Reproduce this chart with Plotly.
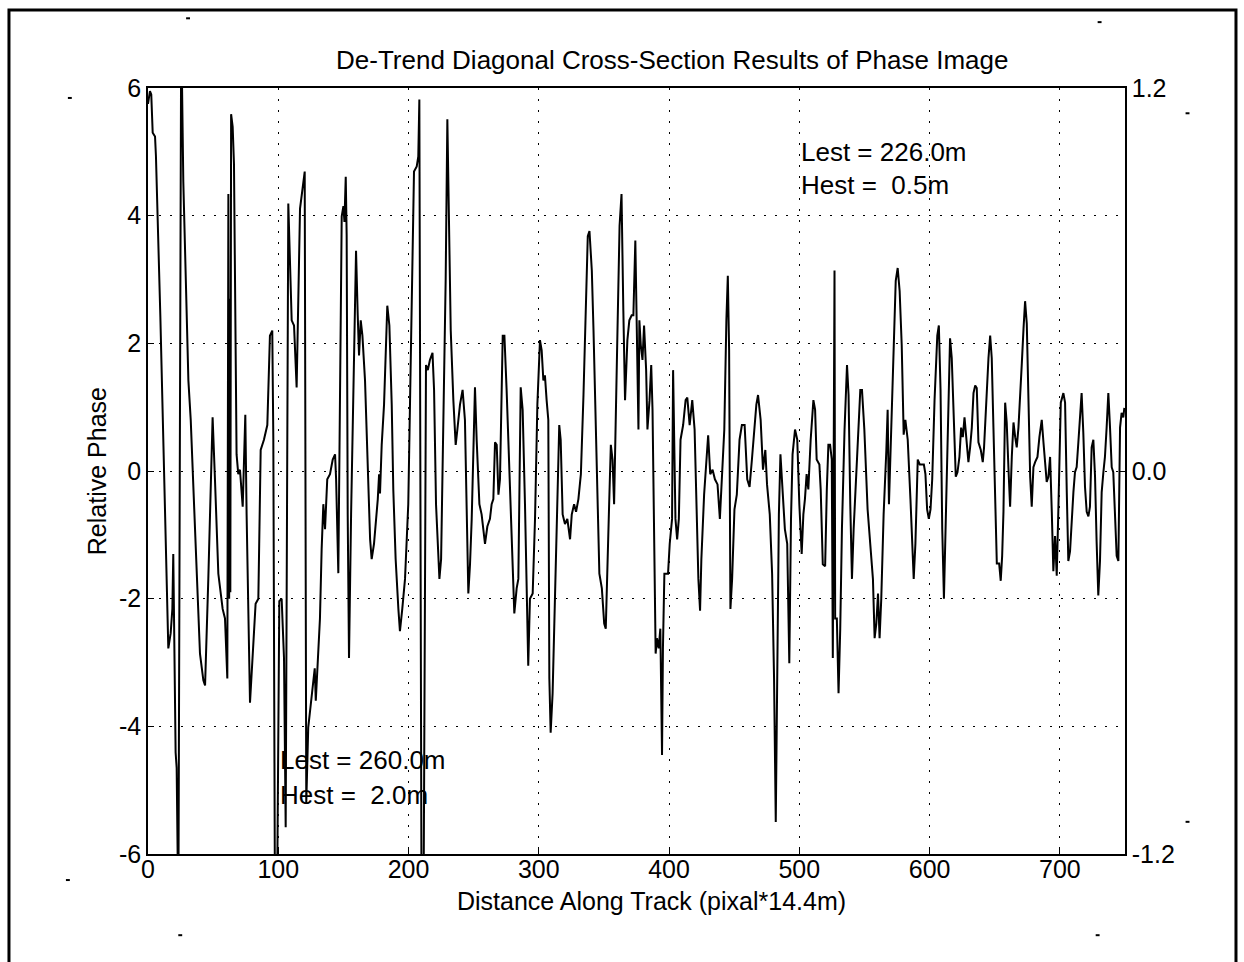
import plotly.graph_objects as go

# ---- data ----
dist = [0.0, 1.5, 2.5, 3.6, 5.4, 6.1, 9.5, 12.5, 15.6, 17.4, 18.7, 19.4, 20.2, 21.2, 22.0, 23.3, 25.5, 26.3, 27.1,
        31.0, 32.8, 36.1, 39.9, 42.5, 43.8, 46.3, 49.6, 51.4, 54.0, 57.3, 59.1, 60.9, 61.7, 62.3, 62.8, 63.2, 63.8,
        65.0, 66.0, 68.0, 69.3, 70.6, 72.7, 74.7, 75.7, 78.3, 80.9, 82.6, 84.7, 86.5, 89.0, 91.6, 93.6, 95.4, 96.2,
        97.5, 99.0, 100.8, 102.6, 104.4, 105.7, 107.7, 110.3, 112.1, 114.1, 116.7, 120.3, 121.5, 123.0, 126.9, 128.0,
        128.8, 130.8, 132.0, 133.3, 134.6, 135.9, 137.6, 139.7, 141.8, 143.6, 144.4, 146.1, 146.8, 148.7, 150.0,
        150.8, 151.8, 152.5, 153.3, 154.3, 155.9, 157.6, 159.7, 161.0, 162.0, 163.3, 164.6, 166.6, 168.7, 170.5,
        171.7, 173.5, 176.4, 177.4, 178.1, 179.4, 181.2, 183.7, 185.3, 187.1, 188.3, 190.1, 192.2, 193.4, 195.2,
        197.3, 199.8, 202.4, 204.2, 206.3, 207.5, 208.3, 210.0, 211.5, 213.4, 214.8, 216.4, 218.4, 219.6, 221.1,
        223.7, 225.0, 226.7, 228.5, 229.8, 231.0, 232.4, 234.4, 236.2, 237.5, 239.5, 241.5, 243.3, 245.9, 247.2,
        248.5, 251.0, 252.3, 254.4, 256.1, 258.7, 260.5, 262.5, 263.8, 265.1, 266.4, 267.7, 269.0, 270.2, 272.3,
        273.6, 275.3, 277.9, 280.0, 281.2, 283.0, 284.3, 286.1, 287.6, 289.4, 290.6, 291.9, 293.2, 295.3, 297.1,
        298.9, 300.9, 302.2, 303.5, 304.7, 306.0, 307.3, 308.1, 309.1, 310.6, 312.4, 313.7, 315.7, 316.8, 318.3,
        320.1, 321.9, 324.0, 325.3, 327.1, 328.6, 330.4, 332.3, 334.3, 336.4, 337.6, 338.9, 340.7, 342.0, 344.5,
        346.5, 348.4, 350.2, 351.4, 352.7, 354.0, 355.3, 356.6, 357.8, 359.1, 360.4, 362.0, 363.5, 364.9, 366.2,
        368.0, 369.5, 371.3, 372.6, 374.1, 375.2, 376.5, 377.2, 378.3, 379.6, 380.8, 382.4, 383.4, 385.0, 386.3,
        387.3, 388.9, 389.7, 390.7, 392.0, 393.3, 394.6, 395.3, 396.4, 397.7, 399.2, 400.5, 402.3, 403.1, 404.1,
        404.9, 406.2, 407.5, 408.8, 410.8, 412.7, 414.0, 415.8, 416.5, 417.8, 419.6, 421.2, 422.5, 423.8, 424.8,
        426.9, 429.0, 430.0, 431.6, 433.4, 435.2, 437.2, 439.0, 440.4, 442.4, 444.0, 445.1, 446.1, 447.1, 448.4,
        450.2, 452.0, 454.1, 455.9, 458.0, 460.0, 461.8, 463.6, 465.2, 467.0, 468.3, 470.3, 472.1, 473.9, 475.2,
        477.3, 479.1, 480.6, 481.9, 483.2, 484.3, 485.5, 486.8, 488.9, 490.7, 492.3, 493.6, 494.8, 496.7, 498.4,
        500.0, 501.8, 503.1, 504.3, 505.6, 506.9, 508.7, 510.8, 512.1, 513.3, 515.4, 516.4, 518.0, 519.8, 521.1,
        522.3, 523.6, 524.9, 525.7, 527.0, 527.5, 528.8, 530.1, 531.4, 532.7, 534.7, 536.6, 537.8, 539.1, 540.4,
        541.7, 543.7, 545.5, 546.8, 548.1, 549.9, 552.4, 554.5, 556.5, 557.8, 559.1, 560.4, 561.6, 562.9, 564.7,
        566.8, 567.8, 568.8, 570.6, 572.4, 574.0, 575.5, 577.0, 578.6, 580.1, 581.4, 583.2, 585.3, 586.8, 587.8,
        589.1, 590.9, 592.5, 594.3, 595.6, 596.8, 598.1, 599.4, 600.7, 602.0, 603.8, 605.9, 607.1, 608.4, 609.7,
        611.0, 612.6, 614.4, 615.7, 617.0, 618.3, 620.1, 621.4, 622.9, 624.2, 625.5, 626.8, 628.1, 629.8, 631.1,
        632.4, 633.7, 635.0, 636.2, 637.5, 639.3, 640.8, 641.8, 643.4, 645.2, 646.5, 647.7, 649.0, 650.3, 651.6,
        653.4, 654.6, 655.7, 656.7, 658.0, 659.2, 660.5, 661.8, 663.1, 664.4, 665.7, 666.9, 668.2, 669.5, 670.8,
        672.1, 673.3, 674.6, 675.9, 677.2, 678.4, 679.7, 681.0, 682.8, 684.3, 686.1, 687.4, 688.7, 689.9, 691.2,
        692.5, 693.8, 695.0, 696.3, 697.6, 698.9, 700.7, 702.7, 704.0, 705.3, 706.5, 707.8, 709.1, 710.4, 711.6,
        712.9, 714.2, 715.5, 716.7, 718.0, 719.3, 720.6, 721.9, 723.1, 724.4, 725.7, 727.0, 728.2, 729.5, 730.8,
        732.1, 733.4, 734.6, 735.9, 737.2, 738.5, 739.8, 741.0, 742.3, 743.6, 744.9, 746.2, 747.4, 748.7, 749.5]

phase = [5.75, 5.95, 5.9, 5.3, 5.24, 4.93, 2.4, 0.0, -2.78, -2.54, -2.16, -1.30, -2.39, -4.41, -4.65, -7.0, 7.0, 6.0, 4.54,
         1.42, 0.80, -0.91, -2.86, -3.28, -3.36, -1.69, 0.84, -0.13, -1.61, -2.16, -2.31, -3.25, 4.34, -2.0, 2.7, -1.9, 5.59,
         5.39, 4.81, 0.26, -0.05, 0.02, -0.56, 0.88, -0.68, -3.63, -2.62, -2.08, -2.0, 0.33, 0.49, 0.72, 2.12, 2.2, 0.5,
         -7.0, -7.0, -2.04, -2.0, -2.93, -5.58, 4.19, 2.36, 2.28, 1.31, 4.11, 4.69, -5.2, -4.02, -3.25, -3.09,
         -3.6, -2.62, -2.31, -1.22, -0.52, -0.91, -0.13, -0.05, 0.18, 0.26, -0.13, -1.6, -0.3, 3.99, 4.15,
         3.9, 4.61, 3.7, -0.68, -2.93, -0.68, 1.42, 3.45, 2.44, 1.81, 2.36, 2.12, 1.42, -0.13, -1.07,
         -1.38, -1.14, -0.44, -0.05, -0.35, 0.41, 1.04, 2.59, 2.28, 1.04, -0.29, -1.38, -2.16, -2.51, -2.16,
         -1.69, -0.52, 2.98, 4.69, 4.77, 4.93, 5.82, -7.0, -7.0, 1.66, 1.58, 1.74, 1.85, 1.27, -0.52,
         -1.69, -1.38, 0.65, 2.98, 5.51, 4.15, 2.2, 1.11, 0.41, 0.65, 1.04, 1.27, 0.8, -1.92, -1.46,
         -0.75, 1.31, 0.49, -0.52, -0.68, -1.14, -0.87, -0.75, -0.52, -0.44, 0.45, 0.41, -0.37, -0.13, 2.12,
         2.12, 1.27, -0.37, -1.53, -2.23, -1.84, -1.69, 1.31, 0.96, -0.52, -2.0, -3.05, -2.0, -1.92, -0.75,
         1.04, 2.05, 1.89, 1.42, 1.5, 1.11, 0.8, -3.25, -4.1, -3.48, -2.08, -0.68, 0.72, 0.49, -0.68,
         -0.83, -0.75, -1.07, -0.68, -0.52, -0.64, -0.44, -0.05, 1.19, 2.67, 3.68, 3.76, 3.14, 2.2, -0.13,
         -1.61, -1.84, -2.39, -2.47, -1.3, -0.52, 0.41, 0.18, -0.52, 0.65, 2.2, 3.84, 4.34, 2.51, 1.11,
         2.05, 2.36, 2.44, 2.44, 3.61, 2.36, 0.65, 2.36, 1.97, 1.74, 2.28, 1.58, 0.65, 1.11, 1.66,
         0.96, -2.16, -2.86, -2.62, -2.78, -2.47, -4.45, -2.78, -1.61, -1.61, -1.61, -1.14, -0.75, 1.58, 0.49,
         -0.75, -1.07, -0.75, 0.49, 0.72, 1.11, 1.15, 0.72, 0.87, 1.11, 0.65, -0.68, -1.69, -2.19, -1.38,
         -0.37, 0.26, 0.56, -0.05, 0.02, -0.13, -0.21, -0.75, -0.13, 0.65, 2.36, 3.06, 1.89, -2.16, -1.69,
         -0.6, -0.37, 0.49, 0.72, 0.72, -0.13, -0.25, 0.18, 0.65, 1.04, 1.19, 0.8, 0.02, 0.33, -0.21,
         -0.68, -1.61, -3.25, -5.5, -2.47, -0.68, 0.26, -0.13, -0.91, -1.14, -3.01, -0.75, 0.26, 0.65, 0.49,
         -0.52, -1.3, -0.68, -0.44, -0.05, -0.29, 0.49, 1.11, 0.96, 0.18, 0.1, -0.29, -1.46, -1.49, -0.29,
         0.41, 0.41, 0.18, -2.93, 3.14, -2.31, -2.31, -3.48, -2.47, -0.91, 0.65, 1.66, 1.19, -0.52, -1.69,
         -0.91, 0.02, 0.8, 1.27, 1.27, 0.65, -0.6, -1.22, -1.69, -2.62, -2.39, -1.92, -2.62, -2.0, -0.68,
         0.33, 0.96, -0.52, 0.65, 1.97, 2.98, 3.18, 2.82, 1.97, 0.57, 0.8, 0.49, -0.44, -1.14, -1.69,
         -1.14, 0.18, 0.1, 0.1, 0.1, -0.05, -0.6, -0.75, -0.6, -0.13, 1.11, 2.12, 2.28, 1.27, -0.91,
         -2.0, -0.48, 1.22, 2.08, 1.77, 0.84, -0.09, -0.02, 0.22, 0.68, 0.53, 0.84, 0.53, 0.14, 0.37,
         0.68, 1.22, 1.34, 1.3, 0.45, 0.33, 0.14, 0.37, 1.15, 1.77, 2.12, 1.77, 0.68, -0.48, -1.45,
         -1.45, -1.72, -1.33, -0.64, 1.07, 0.76, 0.06, -0.56, 0.22, 0.76, 0.53, 0.37, 0.68, 1.3, 1.69,
         2.23, 2.66, 2.31, 1.15, -0.09, -0.56, 0.06, 0.14, 0.22, 0.53, 0.8, 0.45, 0.06, -0.17, -0.09,
         0.22, -0.64, -1.57, -1.02, -1.64, -0.56, 1.07, 1.22, 1.07, -0.33, -1.41, -1.26, -0.71, -0.33, -0.02,
         0.06, 0.45, 0.84, 1.22, 0.6, -0.25, -0.64, -0.71, -0.56, 0.37, 0.49, -0.09, -1.1, -1.95, -1.41,
         -0.33, -0.02, 0.22, 0.68, 1.22, 0.68, 0.06, -0.02, -0.64, -1.33, -1.41, 0.68, 0.91, 0.84, 0.99]

x_ticks = [0, 100, 200, 300, 400, 500, 600, 700]
y_ticks = [-6, -4, -2, 0, 2, 4, 6]
y_labels = ["-6", "-4", "-2", "0", "2", "4", "6"]
y2_ticks = [-1.2, 0.0, 1.2]
y2_labels = ["-1.2", "0.0", "1.2"]

title_text = "De-Trend Diagonal Cross-Section Results of Phase Image"
x_label = "Distance Along Track (pixal*14.4m)"
y_label = "Relative Phase"

FONT = "Liberation Sans, Arial, Helvetica, sans-serif"

fig = go.Figure()
fig.add_trace(go.Scatter(x=dist, y=phase, mode="lines",
                         line=dict(color="black", width=2), showlegend=False))
# invisible trace to activate the right axis
fig.add_trace(go.Scatter(x=[0], y=[0], yaxis="y2", mode="lines",
                         line=dict(width=0), showlegend=False, hoverinfo="skip"))

axis_common = dict(showline=True, linecolor="black", linewidth=1.5, ticks="inside",
                   ticklen=6, tickcolor="black", zeroline=False,
                   tickfont=dict(family=FONT, size=25, color="black"))
grid_common = dict(showgrid=True, gridcolor="black", griddash="2px,9px", gridwidth=1.2)

fig.update_layout(
    width=1244, height=962,
    margin=dict(l=148, r=119, t=88, b=108, autoexpand=False),
    paper_bgcolor="white", plot_bgcolor="white",
    font=dict(family=FONT, color="black"),
    xaxis=dict(range=[0, 750], tickvals=x_ticks, mirror=True, ticklabelstandoff=-8,
               **grid_common, **axis_common),
    yaxis=dict(range=[-6, 6], tickvals=y_ticks, ticktext=y_labels, mirror=True,
               **grid_common, **axis_common),
    yaxis2=dict(range=[-1.2, 1.2], tickvals=y2_ticks, ticktext=y2_labels, overlaying="y",
                side="right", showgrid=False, **axis_common),
)

fig.add_annotation(text=title_text, xref="paper", yref="paper", x=0.536, y=1.037,
                   showarrow=False, font=dict(family=FONT, size=26), xanchor="center", yanchor="middle")
fig.add_annotation(text=x_label, xref="paper", yref="paper", x=0.515, y=-0.061,
                   showarrow=False, font=dict(family=FONT, size=25), xanchor="center", yanchor="middle")
fig.add_annotation(text=y_label, xref="paper", yref="paper", x=-0.052, y=0.5,
                   showarrow=False, textangle=-90, font=dict(family=FONT, size=25),
                   xanchor="center", yanchor="middle")

notes = [("Lest = 260.0m", 100, -4.53), ("Hest = &nbsp;2.0m", 100, -5.08),
         ("Lest = 226.0m", 500, 5.0), ("Hest = &nbsp;0.5m", 500, 4.48)]
for txt, nx, ny in notes:
    fig.add_annotation(text=txt, x=nx, y=ny, xref="x", yref="y", showarrow=False,
                       xanchor="left", yanchor="middle", font=dict(family=FONT, size=26))

# page frame of the scanned figure
fig.add_shape(type="rect", xref="paper", yref="paper", x0=-0.1423, x1=1.1136, y0=-0.2, y1=1.1018,
              line=dict(color="black", width=3), layer="above")

# small registration specks of the scanned page (paper coordinates)
specks = [(0.041, 1.091), (-0.080, 0.987), (0.974, 1.086), (1.064, 0.967),
          (1.064, 0.042), (-0.082, -0.034), (0.033, -0.106), (0.972, -0.106)]
for sx, sy in specks:
    fig.add_shape(type="line", xref="paper", yref="paper", x0=sx - 0.002, x1=sx + 0.002,
                  y0=sy, y1=sy, line=dict(color="black", width=2))

fig.write_html("out.html", config={"displayModeBar": False, "responsive": False},
               post_script="document.body.style.margin='0';")
